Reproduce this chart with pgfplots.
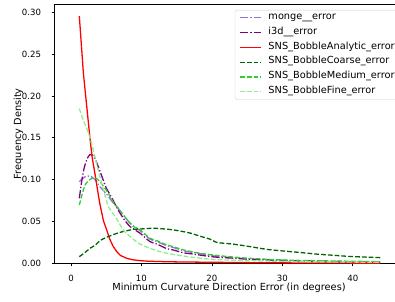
\documentclass[border=0pt]{standalone}
\usepackage{pgfplots}
\pgfplotsset{compat=1.18}
\usepackage{fontspec}
\setmainfont{DejaVu Sans}
\definecolor{mpurple}{HTML}{9370DB}
\definecolor{dpurple}{HTML}{800080}
\definecolor{dgreen}{HTML}{006400}
\definecolor{lgreen}{HTML}{32CD32}
\definecolor{pgreen}{HTML}{90EE90}
\definecolor{sred}{HTML}{FF0000}
\begin{document}
\begin{tikzpicture}
\begin{axis}[
  at={(0,0)}, anchor=south west,
  scale only axis, width=407.1pt, height=302.6pt,
  xmin=-2.34, xmax=47.2, ymin=0, ymax=0.31,
  xtick={0,10,20,30,40},
  ytick={0,0.05,0.1,0.15,0.2,0.25,0.3},
  scaled y ticks=false,
  yticklabel style={/pgf/number format/fixed, /pgf/number format/precision=2, /pgf/number format/fixed zerofill},
  /pgf/number format/assume math mode=true,
  tick label style={font=\fontsize{10}{12}\selectfont},
  xticklabel style={anchor=base, inner sep=0pt, yshift=-17.5pt},
  yticklabel style={anchor=east, inner sep=0pt, xshift=-12pt},
  tick align=outside, major tick length=3.5pt,
  xtick pos=bottom, ytick pos=left,
  tick style={black, line width=0.8pt},
  axis line style={line width=0.8pt},
  xlabel={Minimum Curvature Direction Error (in degrees)},
  ylabel={Frequency Density},
  label style={font=\fontsize{11.4}{13.7}\selectfont},
  x label style={at={(axis description cs:0.5,-0.1057)}, anchor=base},
  y label style={at={(axis description cs:-0.096,0.5)}, anchor=base},
  legend cell align=left,
  legend image code/.code={\draw[line width=1.5pt, #1] (0pt,0pt) -- (24pt,0pt);},
  legend style={at={(axis description cs:1,1)}, anchor=north east, xshift=-5pt, yshift=-7pt,
    font=\fontsize{11.4}{13.7}\selectfont, draw=black!20, rounded corners=2pt,
    fill=white,
    inner xsep=5pt, inner ysep=2pt, row sep=3.37pt,
    nodes={inner sep=0pt, text height=9pt, text depth=4.9pt},
    /tikz/every odd column/.append style={column sep=8.5pt}},
  every axis plot/.append style={line width=1.5pt, line join=round},
]
\addplot[color=mpurple, dash pattern=on 9.6pt off 2.4pt on 1.5pt off 2.4pt, smooth, tension=0.4] coordinates {
(1.18,0.0976) (1.6,0.101) (2.2,0.1043) (2.9,0.1035) (3.5,0.099) (4.1,0.0916) (4.7,0.086) (5.3,0.080) (6.0,0.072) (6.5,0.0677) (7.5,0.057) (8.4,0.048) (9.8,0.039) (11.2,0.029) (12.2,0.026) (13.6,0.021) (14.5,0.019) (16,0.015) (18,0.012) (19.7,0.0095) (21.2,0.008) (23,0.0068) (25,0.0055) (28,0.0042) (31,0.0033) (35,0.0025) (40,0.0018) (43.9,0.0015)};
\addlegendentry{monge\_\_error}
\addplot[color=dpurple, dash pattern=on 9.6pt off 2.4pt on 1.5pt off 2.4pt, smooth, tension=0.4] coordinates {
(1.18,0.0777) (1.5,0.097) (1.75,0.1095) (2.0,0.118) (2.35,0.126) (2.7,0.130) (3.0,0.1295) (3.4,0.1255) (3.9,0.115) (4.4,0.1035) (5.0,0.090) (5.3,0.0856) (6.0,0.075) (6.6,0.065) (7.5,0.053) (8.4,0.0438) (9.8,0.036) (11.2,0.026) (12.2,0.023) (13.6,0.0175) (14.5,0.016) (16,0.0125) (17,0.0115) (19.7,0.0082) (21.2,0.0070) (23,0.0062) (25,0.0050) (28,0.0040) (31,0.0032) (35,0.0025) (40,0.0018) (43.9,0.0013)};
\addlegendentry{i3d\_\_error}
\addplot[color=sred, solid] coordinates {
(1.18,0.2955) (1.5,0.258) (1.75,0.228) (2.0,0.207) (2.35,0.178) (2.7,0.149) (3.0,0.127) (3.4,0.107) (3.8,0.086) (4.1,0.071) (4.6,0.051) (5.1,0.039) (5.5,0.029) (6.0,0.020) (6.5,0.014) (7.0,0.0095) (7.9,0.0060) (8.8,0.0042) (9.8,0.0032) (11,0.0025) (13.6,0.0019) (16,0.0016) (19.7,0.0013) (23,0.0010) (27,0.0007) (32,0.0005) (38,0.0003) (43.9,0.0002)};
\addlegendentry{SNS\_BobbleAnalytic\_error}
\addplot[color=dgreen, dash pattern=on 5.55pt off 2.4pt, smooth, tension=0.4] coordinates {
(1.18,0.008) (2.0,0.013) (2.7,0.018) (3.5,0.022) (4.1,0.027) (5.0,0.031) (6.5,0.0358) (7.4,0.038) (8.85,0.0406) (9.8,0.041) (11.2,0.0418) (12.2,0.0418) (13.6,0.0408) (14.5,0.040) (16,0.0378) (17,0.036) (18.3,0.0325) (19.7,0.029) (20.7,0.025) (22,0.0238) (23,0.0230) (25.4,0.020) (27.8,0.0167) (30.2,0.0147) (32.5,0.0130) (34.9,0.0110) (37.3,0.0096) (39.6,0.0082) (42,0.0074) (43.9,0.0068)};
\addlegendentry{SNS\_BobbleCoarse\_error}
\addplot[color=lgreen, dash pattern=on 5.55pt off 2.4pt, smooth, tension=0.4] coordinates {
(1.18,0.0697) (1.6,0.083) (2.0,0.0936) (2.5,0.099) (3.17,0.1023) (3.6,0.1015) (4.12,0.0976) (4.7,0.091) (5.3,0.0836) (6.0,0.073) (6.7,0.066) (7.5,0.057) (8.4,0.0478) (8.85,0.0440) (9.8,0.040) (11.2,0.030) (12.2,0.027) (13.6,0.022) (14.5,0.020) (16,0.016) (18,0.0125) (19.7,0.0105) (21.2,0.0090) (23,0.0076) (25,0.0062) (28,0.0048) (31,0.0038) (35,0.0031) (40,0.0025) (43.9,0.0021)};
\addlegendentry{SNS\_BobbleMedium\_error}
\addplot[color=pgreen, dash pattern=on 5.55pt off 2.4pt, smooth, tension=0.4] coordinates {
(1.18,0.185) (1.7,0.172) (2.2,0.162) (2.5,0.155) (2.9,0.144) (3.4,0.127) (4.1,0.1035) (4.8,0.082) (5.3,0.068) (6.0,0.059) (6.5,0.053) (7.5,0.039) (8.8,0.029) (9.8,0.023) (11.2,0.018) (12.6,0.014) (13.6,0.012) (15,0.010) (17,0.0075) (19.7,0.0050) (22,0.0040) (25,0.0032) (30,0.0024) (35,0.0019) (40,0.0015) (43.9,0.0012)};
\addlegendentry{SNS\_BobbleFine\_error}
\end{axis}
\pgfresetboundingbox
\path[use as bounding box] (-63.6pt,-44pt) rectangle (397.2pt,307.2pt);
\end{tikzpicture}
\end{document}
